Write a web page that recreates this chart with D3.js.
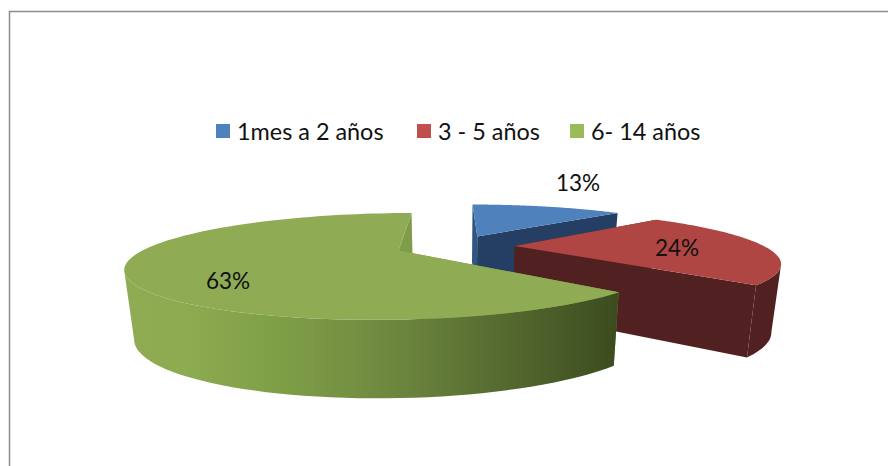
<!DOCTYPE html>
<meta charset="utf-8">
<style>
  html, body { margin: 0; background: #fff; }
  text { font-family: Lato, "Open Sans", sans-serif; fill: #111; }
</style>

<!-- Load d3.js -->
<script src="https://d3js.org/d3.v7.min.js"></script>

<div id="my_dataviz"></div>

<script>

// data
var categories = ["1mes a 2 años", "3 - 5 años", "6- 14 años"];
var values = [13, 24, 63];
var labels = ["13%", "24%", "63%"];

// colours per slice: top, legend, sides
var topColors = ["#4f81bd", "#b04644", "#8fab54"];
var legendColors = ["#4f81bd", "#c0504d", "#9bbb59"];
var sideColors = ["#243f63", "#512020", "#7f9c48"];
var startFaceColors = ["#2f5583", "#512020", "#7f9c48"];

var legendX = [216, 417, 570];
var labelPos = [[578, 183], [677, 248], [228, 281]];

var width = 888, height = 466;

var svg = d3.select("#my_dataviz")
  .append("svg")
    .attr("width", width)
    .attr("height", height)
    .style("display", "block");

// frame
svg.append("path")
  .attr("d", "M9.5,466V11.5H888")
  .attr("fill", "none")
  .attr("stroke", "#8c8c8c")
  .attr("stroke-width", 1.5);

// perspective projection of the tilted pie
var cx = 455, cy = 246, radius = 249, tilt = 46, persp = 0.29, explode = 0.24;
var shrink = 0.97;

function project(X, Z) {
  var s = 1 / (1 + persp * Z);
  return { x: cx + radius * X * s, y: cy - tilt * Z * s, s: s };
}
function lower(p) {
  return { x: cx + (p.x - cx) * shrink, y: p.y + 36 + 29 * p.s };
}

var arcs = d3.pie().sort(null).startAngle(0).endAngle(2 * Math.PI)(values);

var line = d3.line().x(function(d) { return d.x; }).y(function(d) { return d.y; });

var defs = svg.append("defs");
var greenSide = defs.append("linearGradient")
  .attr("id", "greenSide")
  .attr("gradientUnits", "userSpaceOnUse")
  .attr("x1", 124).attr("x2", 615).attr("y1", 0).attr("y2", 0);
[[0, "#8fab54"], [0.12, "#8dab51"], [0.3, "#80a047"], [0.5, "#728d42"], [0.68, "#5f7636"], [1, "#3d4c1f"]].forEach(function(d) {
  greenSide.append("stop").attr("offset", d[0]).attr("stop-color", d[1]);
});

arcs.forEach(function(a, i) {
  var mid = (a.startAngle + a.endAngle) / 2;
  var ox = explode * Math.sin(mid), oz = explode * Math.cos(mid);
  var point = function(t) { return project(ox + Math.sin(t), oz + Math.cos(t)); };
  var apex = project(ox, oz);
  var rim = d3.range(0, 1.0001, 0.01).map(function(f) {
    return point(a.startAngle + f * (a.endAngle - a.startAngle));
  });
  var first = rim[0], last = rim[rim.length - 1];
  var g = svg.append("g");

  // start face
  g.append("path")
    .attr("d", line([first, apex, lower(apex), lower(first)]) + "Z")
    .attr("fill", startFaceColors[i]);
  // end face
  g.append("path")
    .attr("d", line([last, apex, lower(apex), lower(last)]) + "Z")
    .attr("fill", sideColors[i]);
  // outer wall, only the part that faces the viewer (rim runs leftwards there)
  var front = rim.filter(function(p, j) {
    return (j < rim.length - 1 && rim[j + 1].x < p.x) || (j > 0 && p.x < rim[j - 1].x);
  });
  if (front.length > 1) {
    g.append("path")
      .attr("d", line(front.concat(front.slice().reverse().map(lower))) + "Z")
      .attr("fill", i == 2 ? "url(#greenSide)" : sideColors[i]);
  }
  // top
  g.append("path")
    .attr("d", line([apex].concat(rim)) + "Z")
    .attr("fill", topColors[i]);
});

// percent labels
svg.selectAll(".pct")
  .data(labels)
  .enter()
  .append("text")
    .attr("class", "pct")
    .attr("x", function(d, i) { return labelPos[i][0]; })
    .attr("y", function(d, i) { return labelPos[i][1]; })
    .attr("dy", "0.36em")
    .attr("text-anchor", "middle")
    .style("font-size", "22.5px")
    .text(function(d) { return d; });

// legend
var legend = svg.selectAll(".legend")
  .data(categories)
  .enter()
  .append("g")
    .attr("class", "legend")
    .attr("transform", function(d, i) { return "translate(" + legendX[i] + ",124)"; });
legend.append("rect")
  .attr("width", 14)
  .attr("height", 14)
  .attr("fill", function(d, i) { return legendColors[i]; });
legend.append("text")
  .attr("x", 21)
  .attr("y", 16)
  .style("font-size", "23.4px")
  .text(function(d) { return d; });

</script>
